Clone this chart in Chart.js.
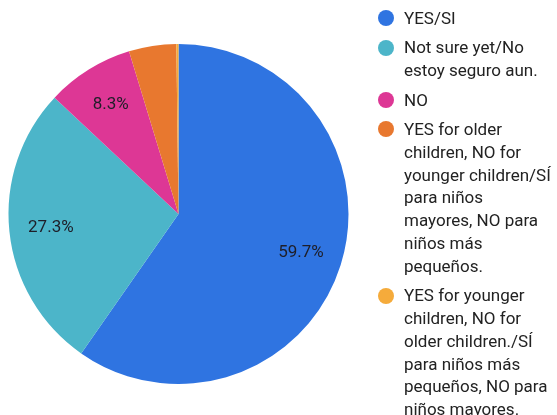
<!DOCTYPE html>
<html>
<head>
<meta charset="utf-8">
<script src="https://cdn.jsdelivr.net/npm/chart.js@4"></script>
<style>
  html, body { margin: 0; padding: 0; background: #fff; }
  #wrap { position: relative; width: 557px; height: 415px; overflow: hidden; }
  #pie { position: absolute; left: 0; top: 0; }
  #legend {
    position: absolute; left: 378px; top: 7px;
    font-family: Roboto, "Noto Sans", sans-serif; font-size: 17px;
    line-height: 22.8px; color: #222; white-space: nowrap;
  }
  .item { position: relative; padding-left: 26px; margin-bottom: 6.6px; }
  .dot { position: absolute; left: 0; top: 3.4px; width: 16px; height: 16px; border-radius: 50%; }
</style>
</head>
<body>
<div id="wrap">
  <canvas id="pie" width="557" height="415"></canvas>
  <div id="legend"></div>
</div>
<script>
// answers (one array of lines per answer), share of responses (%)
const categories = [
  ["YES/SI"],
  ["Not sure yet/No", "estoy seguro aun."],
  ["NO"],
  ["YES for older", "children, NO for", "younger children/SÍ", "para niños", "mayores, NO para", "niños más", "pequeños."],
  ["YES for younger", "children, NO for", "older children./SÍ", "para niños más", "pequeños, NO para", "niños mayores."]
];
const shares = [59.7, 27.3, 8.3, 4.5, 0.2];
const sliceColors = ["#2f74e1", "#4cb5c9", "#dd3795", "#e8782f", "#f5ab3b"];

// percent labels inside the bigger slices
const sliceLabels = {
  id: "sliceLabels",
  afterDatasetsDraw(chart) {
    const ctx = chart.ctx;
    const meta = chart.getDatasetMeta(0);
    ctx.save();
    ctx.font = "17px Roboto, sans-serif";
    ctx.fillStyle = "#1e1e28";
    ctx.textAlign = "center";
    ctx.textBaseline = "middle";
    meta.data.forEach((arc, i) => {
      const v = shares[i];
      if (v < 5) return;
      const p = arc.getProps(["x", "y", "startAngle", "endAngle", "outerRadius"], true);
      const mid = (p.startAngle + p.endAngle) / 2;
      const r = p.outerRadius * 0.755;
      ctx.fillText(v.toFixed(1) + "%", p.x + Math.cos(mid) * r, p.y + Math.sin(mid) * r);
    });
    ctx.restore();
  }
};

new Chart(document.getElementById("pie"), {
  type: "pie",
  data: {
    labels: categories,
    datasets: [{ data: shares, backgroundColor: sliceColors, borderWidth: 0 }]
  },
  options: {
    responsive: false,
    animation: false,
    layout: { padding: { left: 8, top: 44, right: 208, bottom: 31 } },
    plugins: { legend: { display: false }, tooltip: { enabled: false } }
  },
  plugins: [sliceLabels]
});

// legend on the right
const legend = document.getElementById("legend");
categories.forEach((lines, i) => {
  const item = document.createElement("div");
  item.className = "item";
  item.innerHTML = `<span class="dot" style="background:${sliceColors[i]}"></span>${lines.join("<br>")}`;
  legend.appendChild(item);
});
</script>
</body>
</html>
